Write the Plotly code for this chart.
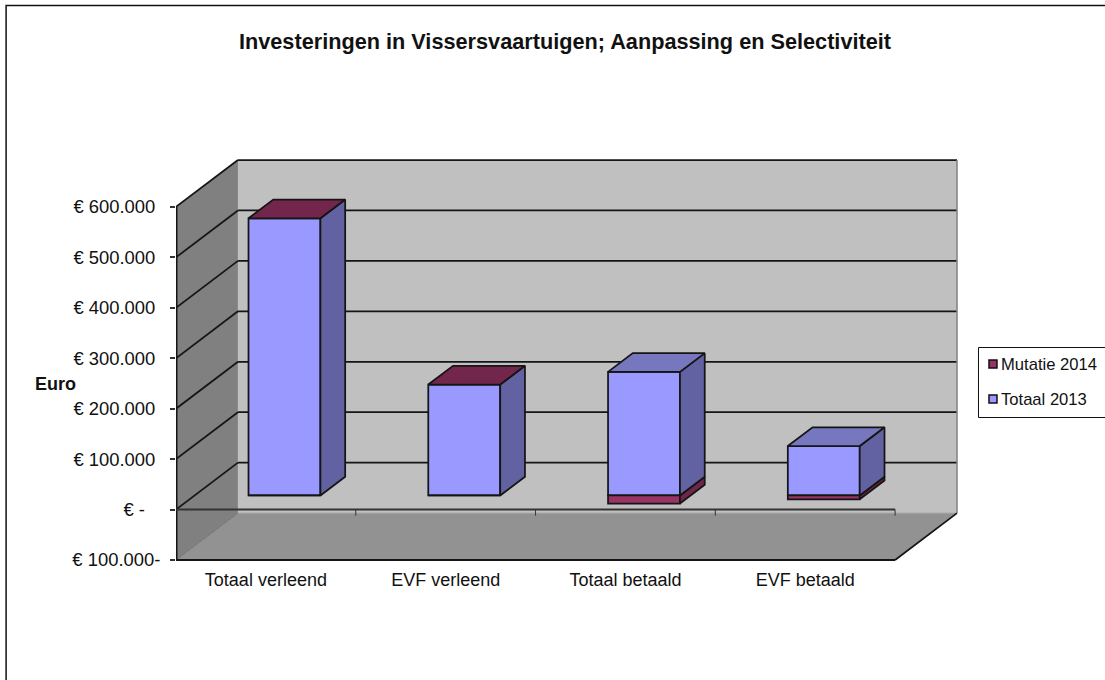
import plotly.graph_objects as go

# ---- data ----
categories = ["Totaal verleend", "EVF verleend", "Totaal betaald", "EVF betaald"]
totaal_2013 = [549500, 220000, 245000, 98000]
mutatie_2014 = [0, 0, -16000, -7500]
y_ticks = [-100000, 0, 100000, 200000, 300000, 400000, 500000, 600000]
y_labels = ["€ 100.000-", "€ -\u00a0\u00a0\u00a0", "€ 100.000\u00a0", "€ 200.000\u00a0", "€ 300.000\u00a0",
            "€ 400.000\u00a0", "€ 500.000\u00a0", "€ 600.000\u00a0"]
series_names = ["Mutatie 2014", "Totaal 2013"]

# ---- 3D look: oblique depth expressed in axis units ----
W, H = 1105, 680
PAD = 5                       # spare pixels so outer edge lines are not clipped
PX_L, PX_R, PX_T, PX_B = 175.5, 957.0 + PAD, 160.0 - PAD, 560.0 + PAD
CAT_PX = 180.0                # pixels per category
VAL_PX = 50.45 / 100000       # pixels per euro
DX = 62 / CAT_PX              # depth in category units
DY = 93000                    # depth in value units
N = len(categories)
XMAX = N + DX + PAD / CAT_PX
YMIN, YMAX = y_ticks[0] - PAD / VAL_PX, y_ticks[-1] + DY + PAD / VAL_PX
D0, D1 = 0.3, 0.7             # bar front / back position within the depth
BAR_W = 0.4

COL = {
    "wall": "#c0c0c0", "side": "#808080", "floor": "#929292", "ink": "#151515",
    "t_front": "#9999ff", "t_side": "#6262a2", "t_top": "#7777c0",
    "m_front": "#993366", "m_side": "#70264b", "m_top": "#73264c",
}

def path(pts):
    return "M " + " L ".join(f"{x},{y}" for x, y in pts) + " Z"

def seg(x0, y0, x1, y1, color=COL["ink"], width=1.75):
    return dict(type="line", xref="x", yref="y", layer="below", x0=x0, y0=y0, x1=x1, y1=y1,
                line=dict(color=color, width=width))

def poly(pts, fill):
    return dict(type="path", xref="x", yref="y", layer="below", path=path(pts),
                fillcolor=fill, line=dict(width=0))

bot, top = y_ticks[0], y_ticks[-1]
shapes = [
    poly([(DX, bot + DY), (N + DX, bot + DY), (N + DX, top + DY), (DX, top + DY)], COL["wall"]),
    poly([(0, bot), (DX, bot + DY), (DX, top + DY), (0, top)], COL["side"]),
    poly([(0, bot), (N, bot), (N + DX, bot + DY), (DX, bot + DY)], COL["floor"]),
]
# grid lines on the side wall and the back wall
for v in y_ticks[1:]:
    shapes.append(seg(0, v, DX, v + DY))
    shapes.append(seg(DX, v + DY, N + DX, v + DY))
shapes += [
    seg(0, bot, DX, bot + DY, "#666666", 0.75),
    seg(N + DX, bot + DY, N + DX, top + DY, "#808080", 1.5),
    seg(DX, bot + DY, N + DX, bot + DY, "#a8a8a8", 1),
    seg(0, bot, 0, top, COL["ink"], 3),
    seg(0, bot, N, bot, COL["ink"], 2),
    seg(N, bot, N + DX, bot + DY),
    seg(0, 0, N, 0, "#333333", 2),
]
# category ticks on the zero line
for i in range(1, N + 1):
    shapes.append(seg(i, 0, i, -12000, "#333333", 1))

# outer chart frame and legend box (pixel layout -> paper)
def px(x):
    return (x - PX_L) / (PX_R - PX_L)
def py(y):
    return (PX_B - y) / (PX_B - PX_T)

shapes.append(dict(type="rect", xref="paper", yref="paper", layer="above", x0=px(5.5), x1=px(1300), y0=py(900), y1=py(5.5),
                   line=dict(color="#111111", width=1.5), fillcolor="rgba(0,0,0,0)"))
shapes.append(dict(type="rect", xref="paper", yref="paper", layer="above", x0=px(978.5), x1=px(1300), y0=py(417.5), y1=py(347.5),
                   line=dict(color="#111111", width=1), fillcolor="white"))

fig = go.Figure()

def faces(i, v0, v1, side, topcol=None):
    """side and top face of one stacked block, from its data values"""
    xl = i + 0.5 - BAR_W / 2 + D0 * DX
    xr = xl + BAR_W
    b = D0 * DY
    dxb, dyb = (D1 - D0) * DX, (D1 - D0) * DY
    line = dict(color=COL["ink"], width=1.75)
    fig.add_trace(go.Scatter(x=[xr, xr + dxb, xr + dxb, xr, xr],
                             y=[v0 + b, v0 + b + dyb, v1 + b + dyb, v1 + b, v0 + b],
                             fill="toself", fillcolor=side, mode="lines", line=line,
                             hoverinfo="skip", showlegend=False))
    if topcol:
        fig.add_trace(go.Scatter(x=[xl, xr, xr + dxb, xl + dxb, xl],
                                 y=[v1 + b, v1 + b, v1 + b + dyb, v1 + b + dyb, v1 + b],
                                 fill="toself", fillcolor=topcol, mode="lines", line=line,
                                 hoverinfo="skip", showlegend=False))

centers = [i + 0.5 + D0 * DX for i in range(N)]
base = [D0 * DY] * N
marker_line = dict(color=COL["ink"], width=1.75)
fig.add_trace(go.Bar(x=centers, y=totaal_2013, base=base, width=BAR_W, name=series_names[1],
                     marker=dict(color=COL["t_front"], line=marker_line), showlegend=False))
fig.add_trace(go.Bar(x=centers, y=mutatie_2014, base=base, width=BAR_W, name=series_names[0],
                     marker=dict(color=COL["m_front"], line=marker_line), showlegend=False))
for i in range(N):
    m, t = mutatie_2014[i], totaal_2013[i]
    if m < 0:
        faces(i, m, 0, COL["m_side"])
        faces(i, 0, t, COL["t_side"], COL["t_top"])
    else:
        faces(i, 0, t + m, COL["t_side"], COL["m_top"])

FONT = "Liberation Sans"
annotations = [
    dict(text="<b>Euro</b>", xref="paper", yref="paper", x=px(32.5), y=py(384), xanchor="left", yanchor="middle",
         showarrow=False, font=dict(family=FONT, size=18, color="#111111")),
]
for name, y, col in zip(series_names, [364, 399], [COL["m_front"], COL["t_front"]]):
    annotations.append(dict(text=name, xref="paper", yref="paper", x=px(999.5), y=py(y), xanchor="left", yanchor="middle",
                            showarrow=False, font=dict(family=FONT, size=16.6, color="#111111")))
    shapes.append(dict(type="rect", xref="paper", yref="paper", layer="above",
                       x0=px(989), x1=px(997), y0=py(y + 4), y1=py(y - 4), fillcolor=col,
                       line=dict(color="#111111", width=1.5)))

fig.update_layout(
    width=W, height=H, autosize=False, showlegend=False, barmode="overlay",
    paper_bgcolor="white", plot_bgcolor="white",
    margin=dict(l=PX_L, r=W - PX_R, t=PX_T, b=H - PX_B, pad=0),
    title=dict(text="<b>Investeringen in Vissersvaartuigen; Aanpassing en Selectiviteit</b>",
               x=565 / W, xanchor="center", y=1 - 41 / H, yanchor="middle",
               font=dict(family=FONT, size=21.7, color="#111111")),
    font=dict(family=FONT, size=18, color="#111111"),
    xaxis=dict(range=[0, XMAX], tickmode="array", tickvals=[i + 0.5 for i in range(N)], ticktext=categories,
               showgrid=False, zeroline=False, showline=False, ticks="", ticklabelstandoff=2, tickfont=dict(size=18)),
    yaxis=dict(range=[YMIN, YMAX], tickmode="array", tickvals=y_ticks, ticktext=y_labels,
               showgrid=False, zeroline=False, showline=False, ticks="outside", ticklen=5, tickwidth=1.5,
               tickcolor="#333333", ticklabelstandoff=6, tickfont=dict(size=18.4)),
    shapes=shapes, annotations=annotations,
)

fig.write_html("out.html", config={"displayModeBar": False},
               post_script="document.body.style.margin='0';document.body.style.overflow='hidden';")
